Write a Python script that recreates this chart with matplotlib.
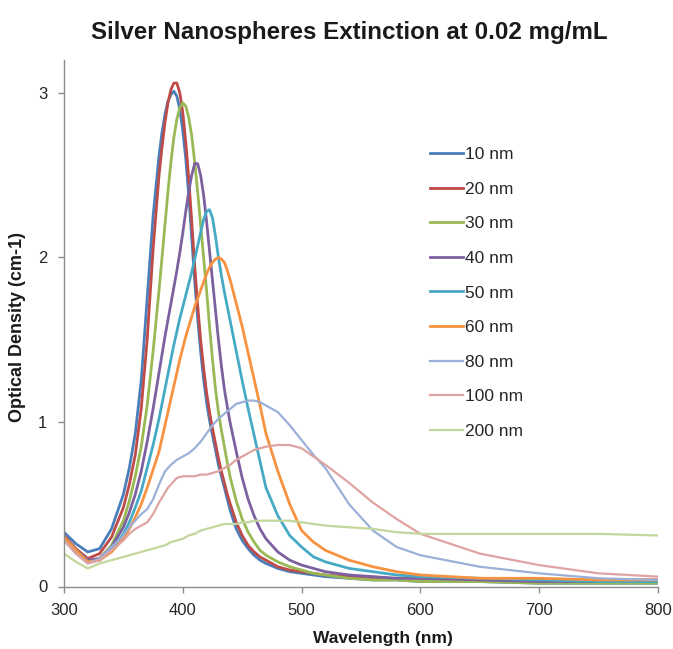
import matplotlib
matplotlib.use("Agg")
import matplotlib.pyplot as plt

plt.rcParams['font.family'] = ['Liberation Sans', 'DejaVu Sans']

# longitud de onda (nm)
wl = [300, 310, 320, 330, 340, 350, 355, 360, 365, 370, 375, 380, 382.5, 385, 387.5,
      390, 392.5, 395, 397.5, 400, 402.5, 405, 407.5, 410, 412.5, 415, 417.5, 420, 422.5,
      425, 427.5, 430, 432.5, 435, 437.5, 440, 445, 450, 455, 460, 465, 470, 480, 490,
      500, 510, 520, 540, 560, 580, 600, 650, 700, 750, 800]

od_10 = [0.33, 0.26, 0.21, 0.23, 0.35, 0.56, 0.72, 0.93, 1.25, 1.75, 2.25, 2.62, 2.76, 2.87, 2.95,
         2.99, 3.01, 2.98, 2.90, 2.77, 2.60, 2.38, 2.12, 1.86, 1.63, 1.43, 1.26, 1.12, 1.01,
         0.92, 0.83, 0.74, 0.67, 0.60, 0.53, 0.46, 0.35, 0.28, 0.23, 0.19, 0.16, 0.14, 0.11, 0.09,
         0.08, 0.07, 0.06, 0.05, 0.04, 0.04, 0.03, 0.03, 0.02, 0.02, 0.02]
od_20 = [0.31, 0.23, 0.17, 0.20, 0.30, 0.48, 0.62, 0.80, 1.08, 1.50, 2.05, 2.50, 2.67, 2.82, 2.94,
         3.02, 3.06, 3.06, 3.00, 2.88, 2.70, 2.48, 2.22, 1.95, 1.71, 1.50, 1.33, 1.18, 1.06,
         0.96, 0.87, 0.78, 0.70, 0.63, 0.56, 0.50, 0.39, 0.31, 0.25, 0.21, 0.18, 0.16, 0.12, 0.10,
         0.09, 0.08, 0.07, 0.06, 0.05, 0.05, 0.05, 0.04, 0.04, 0.04, 0.04]
od_30 = [0.30, 0.22, 0.15, 0.17, 0.25, 0.40, 0.52, 0.67, 0.85, 1.10, 1.43, 1.80, 2.00, 2.20, 2.40,
         2.58, 2.73, 2.84, 2.91, 2.94, 2.92, 2.85, 2.74, 2.58, 2.40, 2.20, 2.00, 1.80, 1.58,
         1.38, 1.20, 1.06, 0.95, 0.85, 0.75, 0.66, 0.52, 0.41, 0.33, 0.27, 0.22, 0.19, 0.15, 0.12,
         0.10, 0.08, 0.07, 0.05, 0.04, 0.04, 0.03, 0.03, 0.02, 0.02, 0.02]
od_40 = [0.30, 0.22, 0.16, 0.17, 0.24, 0.36, 0.45, 0.56, 0.70, 0.88, 1.08, 1.30, 1.41, 1.52, 1.62,
         1.72, 1.82, 1.92, 2.03, 2.15, 2.28, 2.40, 2.50, 2.57, 2.57, 2.50, 2.38, 2.22, 2.04,
         1.86, 1.68, 1.50, 1.34, 1.20, 1.09, 0.99, 0.82, 0.66, 0.53, 0.43, 0.35, 0.29, 0.21, 0.16,
         0.13, 0.11, 0.09, 0.07, 0.06, 0.05, 0.05, 0.04, 0.03, 0.03, 0.03]
od_50 = [0.30, 0.22, 0.15, 0.16, 0.22, 0.32, 0.39, 0.48, 0.58, 0.72, 0.86, 1.02, 1.11, 1.20, 1.29,
         1.38, 1.47, 1.55, 1.63, 1.70, 1.77, 1.84, 1.91, 1.99, 2.07, 2.15, 2.23, 2.28, 2.29,
         2.24, 2.13, 2.00, 1.89, 1.79, 1.70, 1.61, 1.43, 1.25, 1.08, 0.92, 0.76, 0.60, 0.43, 0.31,
         0.24, 0.18, 0.15, 0.11, 0.09, 0.07, 0.06, 0.05, 0.04, 0.03, 0.03]
od_60 = [0.30, 0.22, 0.15, 0.16, 0.21, 0.29, 0.35, 0.42, 0.50, 0.60, 0.71, 0.82, 0.90, 0.98, 1.06,
         1.14, 1.22, 1.30, 1.38, 1.45, 1.52, 1.58, 1.64, 1.70, 1.75, 1.80, 1.85, 1.90, 1.94,
         1.97, 1.99, 2.00, 1.99, 1.97, 1.92, 1.86, 1.72, 1.58, 1.42, 1.26, 1.10, 0.93, 0.70, 0.50,
         0.34, 0.27, 0.22, 0.16, 0.12, 0.09, 0.07, 0.05, 0.05, 0.04, 0.04]
od_80 = [0.28, 0.20, 0.14, 0.17, 0.24, 0.31, 0.36, 0.40, 0.44, 0.47, 0.53, 0.62, 0.66, 0.70, 0.72,
         0.74, 0.755, 0.77, 0.78, 0.79, 0.80, 0.81, 0.825, 0.84, 0.86, 0.88, 0.905, 0.93, 0.955,
         0.98, 1.00, 1.02, 1.035, 1.05, 1.065, 1.08, 1.11, 1.12, 1.13, 1.13, 1.12, 1.10, 1.06, 0.98,
         0.89, 0.80, 0.72, 0.50, 0.34, 0.24, 0.19, 0.12, 0.08, 0.05, 0.04]
od_100 = [0.28, 0.20, 0.14, 0.16, 0.22, 0.28, 0.32, 0.35, 0.37, 0.39, 0.44, 0.51, 0.54, 0.57, 0.60,
          0.62, 0.64, 0.66, 0.665, 0.67, 0.67, 0.67, 0.67, 0.67, 0.675, 0.68, 0.68, 0.68, 0.685,
          0.69, 0.695, 0.70, 0.71, 0.72, 0.73, 0.74, 0.77, 0.79, 0.81, 0.83, 0.84, 0.85, 0.86, 0.86,
          0.84, 0.79, 0.74, 0.63, 0.51, 0.41, 0.32, 0.20, 0.13, 0.08, 0.06]
od_200 = [0.20, 0.15, 0.11, 0.14, 0.16, 0.18, 0.19, 0.20, 0.21, 0.22, 0.23, 0.24, 0.245, 0.25, 0.26,
          0.27, 0.275, 0.28, 0.285, 0.29, 0.30, 0.31, 0.315, 0.32, 0.33, 0.34, 0.345, 0.35, 0.355,
          0.36, 0.365, 0.37, 0.375, 0.38, 0.38, 0.38, 0.38, 0.39, 0.39, 0.40, 0.40, 0.40, 0.40, 0.40,
          0.39, 0.38, 0.37, 0.36, 0.35, 0.33, 0.32, 0.32, 0.32, 0.32, 0.31]

etiquetas = ["10 nm", "20 nm", "30 nm", "40 nm", "50 nm", "60 nm", "80 nm", "100 nm", "200 nm"]
series = [od_10, od_20, od_30, od_40, od_50, od_60, od_80, od_100, od_200]
colores = ["#4A7EBB", "#BE4B48", "#98B954", "#7D60A0", "#46AAC5", "#F69240",
           "#9AB0D8", "#DFA3A2", "#C3D69B"]
grosor = [2.0, 2.0, 2.0, 2.0, 2.0, 2.0, 1.6, 1.6, 1.6]

fig = plt.figure(figsize=(6.73, 6.49), dpi=100)
ejes = fig.add_axes([64 / 673, 1 - 586.5 / 649, 594 / 673, 526.5 / 649])

for y, c, lw, lab in zip(series, colores, grosor, etiquetas):
    ejes.plot(wl, y, color=c, lw=lw, label=lab)

ejes.set_xlim(300, 800)
ejes.set_ylim(0, 3.2)
ejes.set_xticks([300, 400, 500, 600, 700, 800])
ejes.set_yticks([0, 1, 2, 3])

for s in ["top", "right"]:
    ejes.spines[s].set_visible(False)
for s in ["left", "bottom"]:
    ejes.spines[s].set_color("#8c8c8c")
    ejes.spines[s].set_linewidth(1.0)
ejes.tick_params(colors="#8c8c8c", labelcolor="#262626", labelsize=12, length=4, width=1)
ejes.tick_params(axis="x", pad=8)
ejes.tick_params(axis="y", pad=8)

# textos
fig.text(383 / 673, 1 - 638 / 649, "Wavelength (nm)", fontsize=12.5, fontweight="bold",
         ha="center", va="center", color="#1a1a1a")
fig.text(18 / 673, 1 - 327 / 649, "Optical Density (cm-1)", fontsize=13, fontweight="bold",
         ha="center", va="center", rotation=90, color="#1a1a1a")
fig.text(349 / 673, 1 - 32 / 649, "Silver Nanospheres Extinction at 0.02 mg/mL",
         fontsize=17.4, fontweight="bold", ha="center", va="center", color="#1a1a1a")

ejes.legend(loc="upper left", bbox_to_anchor=(430 / 673, 1 - 147 / 649),
            bbox_transform=fig.transFigure, frameon=False, fontsize=12.5,
            borderpad=0, borderaxespad=0, handlelength=1.9, handletextpad=0.1,
            labelspacing=1.12, labelcolor="#262626")

plt.savefig("out.png", dpi=100)
